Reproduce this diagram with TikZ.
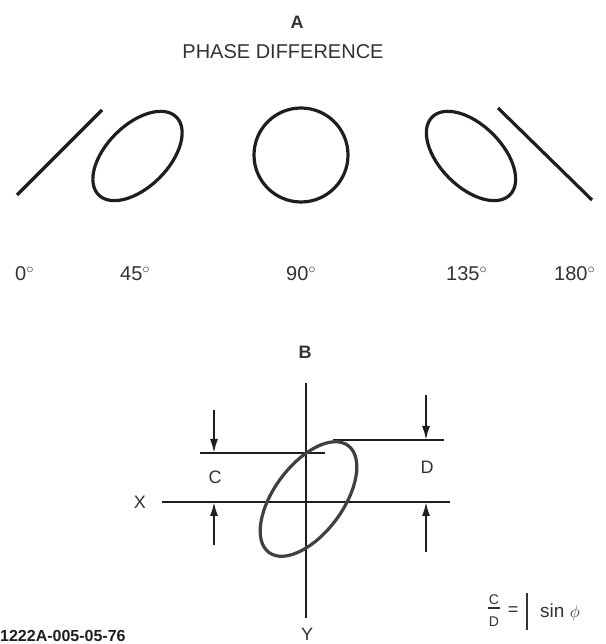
\documentclass[tikz,border=0pt]{standalone}
\usepackage{fontspec}
\setmainfont{Liberation Sans}
\usetikzlibrary{arrows.meta}
\definecolor{ink}{HTML}{1E1E1E}
\definecolor{txt}{HTML}{333333}
\begin{document}
\begin{tikzpicture}[x=1pt,y=1pt,
  curve/.style={draw=ink,line width=3.2pt},
  axis/.style={draw=ink,line width=2pt},
  dimarrow/.style={axis,-{Latex[length=14pt,width=8pt]}},
  lbl/.style={text=txt,inner sep=0pt,font=\fontsize{20}{24}\selectfont},
  axlbl/.style={text=txt,inner sep=0pt,font=\fontsize{18}{22}\selectfont},
  titlelbl/.style={text=txt,inner sep=0pt,font=\bfseries\fontsize{18}{22}\selectfont},
  smalllbl/.style={text=txt,inner sep=0pt,font=\fontsize{14}{16}\selectfont},
  codelbl/.style={text=ink,inner sep=0pt,font=\bfseries\fontsize{16}{18}\selectfont}]
\clip (0,0) rectangle (605,644);
\fill[white] (0,0) rectangle (605,644);

% ---------- Part A ----------
\node[titlelbl] (A) at (297,622) {A};
\node[lbl] (phase) at (283,592) {PHASE DIFFERENCE};

\coordinate (l0a) at (17,449);
\coordinate (l0b) at (102,534);
\draw[curve] (l0a) -- (l0b);

\coordinate (e45) at (137.5,488);
\draw[curve,rotate around={45:(e45)}] (e45) ellipse [x radius=55,y radius=31];

\coordinate (c90) at (301,489);
\draw[curve] (c90) circle [radius=47];

\coordinate (e135) at (471,488);
\draw[curve,rotate around={135:(e135)}] (e135) ellipse [x radius=55,y radius=31];

\coordinate (l180a) at (498,536);
\coordinate (l180b) at (592,444);
\draw[curve] (l180a) -- (l180b);

\node[lbl,anchor=base west] (d0) at (15,363) {0$^{\circ}$};
\node[lbl,anchor=base west] (d45) at (120,363) {45$^{\circ}$};
\node[lbl,anchor=base west] (d90) at (286,363) {90$^{\circ}$};
\node[lbl,anchor=base west] (d135) at (446,363) {135$^{\circ}$};
\node[lbl,anchor=base west] (d180) at (554,363) {180$^{\circ}$};

% ---------- Part B ----------
\node[titlelbl] (B) at (305,292) {B};

\coordinate (yt) at (305.5,261);
\coordinate (yb) at (305.5,26);
\draw[axis] (yt) -- (yb);
\node[axlbl,anchor=base] (Ylbl) at (307,3) {Y};

\coordinate (xl) at (162,142);
\coordinate (xr) at (450,142);
\draw[axis] (xl) -- (xr);
\node[axlbl] (Xlbl) at (140,142) {X};

\coordinate (cl) at (200,191);
\coordinate (cr) at (325,191);
\draw[axis] (cl) -- (cr);
\coordinate (dl) at (333,204);
\coordinate (dr) at (444,204);
\draw[axis] (dl) -- (dr);

\node[axlbl] (Clbl) at (215,167) {C};
\node[axlbl] (Dlbl) at (427,177) {D};

\coordinate (ca1) at (214,234);
\coordinate (ca1t) at (214,191);
\coordinate (ca2) at (214,99);
\coordinate (ca2t) at (214,142);
\draw[dimarrow] (ca1) -- (ca1t);
\draw[dimarrow] (ca2) -- (ca2t);

\coordinate (da1) at (426,249);
\coordinate (da1t) at (426,204);
\coordinate (da2) at (426,92);
\coordinate (da2t) at (426,142);
\draw[dimarrow] (da1) -- (da1t);
\draw[dimarrow] (da2) -- (da2t);

\coordinate (eB) at (308.5,145);
\draw[curve,draw=ink!85,rotate around={53.5:(eB)}] (eB) ellipse [x radius=66.5,y radius=34.5];

% formula
\node[smalllbl] (fc) at (494,44) {C};
\node[smalllbl] (fd) at (494,22) {D};
\coordinate (fb1) at (488,36);
\coordinate (fb2) at (500,36);
\draw[draw=txt,line width=1.2pt] (fb1) -- (fb2);
\node[axlbl] (feq) at (513,33) {=};
\coordinate (bar1) at (527,51);
\coordinate (bar2) at (527,14);
\draw[draw=txt,line width=2.4pt] (bar1) -- (bar2);
\node[text=txt,inner sep=0pt,font=\fontsize{19}{22}\selectfont,anchor=base west] (sin) at (540,26) {sin $\phi$};

\node[codelbl,anchor=base west] (code) at (0,2) {1222A-005-05-76};
\end{tikzpicture}
\end{document}
